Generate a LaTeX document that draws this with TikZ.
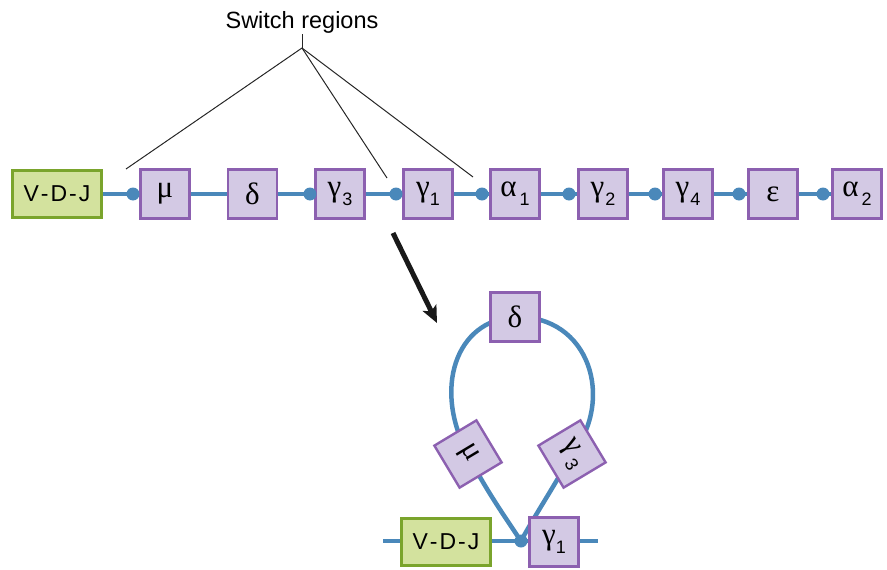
\documentclass[tikz,border=0pt]{standalone}
\usepackage{fontspec}
\setmainfont{Liberation Sans}
\newfontfamily\grk{Liberation Serif}
\usetikzlibrary{arrows.meta,backgrounds}
\definecolor{chain}{RGB}{74,136,186}
\definecolor{boxfill}{RGB}{211,201,228}
\definecolor{boxdraw}{RGB}{140,96,176}
\definecolor{vfill}{RGB}{211,226,158}
\definecolor{vdraw}{RGB}{122,164,44}
\newcommand\subdig[1]{\raisebox{-9pt}{\fontsize{18}{18}\selectfont #1}}
\newcommand\gl[1]{{\grk\fontsize{31}{31}\selectfont #1}}
\tikzset{
  gene/.style={draw=boxdraw,fill=boxfill,line width=2.4pt,minimum width=49pt,minimum height=49pt,inner sep=0pt,font=\fontsize{23}{23}\selectfont},
  vdj/.style={draw=vdraw,fill=vfill,line width=2.4pt,minimum width=89pt,minimum height=47pt,inner sep=0pt,font=\fontsize{23}{23}\selectfont},
  sw/.style={circle,fill=chain,inner sep=0pt,minimum size=13pt},
  chainline/.style={draw=chain,line width=4.5pt},
  pointer/.style={draw=black!85,line width=1pt}
}
\begin{document}
\begin{tikzpicture}[x=1pt,y=-1pt]
\useasboundingbox (0,0) rectangle (887,570);
% top row
\node[vdj] (vdj) at (57,194) {V\kern2pt-\kern2ptD\kern2pt-\kern2ptJ};
\node[gene] (mu) at (165,194) {\gl{μ}};
\node[gene] (de) at (252.5,194) {\gl{δ}};
\node[gene] (g3) at (340,194) {\gl{γ}\kern1pt\subdig{3}};
\node[gene] (g1) at (428,194) {\gl{γ}\kern0pt\subdig{1}};
\node[gene] (a1) at (515,194) {\gl{α}\kern3pt\subdig{1}};
\node[gene] (g2) at (603,194) {\gl{γ}\kern1pt\subdig{2}};
\node[gene] (g4) at (688,194) {\gl{γ}\kern1pt\subdig{4}};
\node[gene] (ep) at (773,194) {\gl{ε}};
\node[gene] (a2) at (857,194) {\gl{α}\kern3pt\subdig{2}};
\node[sw] (s1) at (133,194) {};
\node[sw] (s2) at (310,194) {};
\node[sw] (s3) at (396,194) {};
\node[sw] (s4) at (482,194) {};
\node[sw] (s5) at (569,194) {};
\node[sw] (s6) at (655,194) {};
\node[sw] (s7) at (739,194) {};
\node[sw] (s8) at (823,194) {};
\begin{scope}[on background layer]
\draw[chainline] (vdj.center) -- (a2.center);
\end{scope}
% switch regions label
\node[font=\fontsize{23.5}{24}\selectfont,anchor=base] (lab) at (302,28) {Switch regions};
\coordinate (apex) at (302,48);
\coordinate (t1) at (126,169);
\coordinate (t2) at (387,178);
\coordinate (t3) at (473,177);
\draw[pointer] (lab.south) ++(0,-2) -- (apex);
\draw[pointer] (apex) -- (t1);
\draw[pointer] (apex) -- (t2);
\draw[pointer] (apex) -- (t3);
% big arrow
\coordinate (ar1) at (393,233);
\coordinate (ar2) at (437,323);
\draw[line width=5pt,black!90,-{Stealth[length=17pt,width=15pt,inset=4pt]}] (ar1) -- (ar2);
% bottom loop
\coordinate (bl) at (383,541);
\coordinate (br) at (598,541);
\node[vdj] (vdjb) at (446,542) {V\kern2pt-\kern2ptD\kern2pt-\kern2ptJ};
\node[gene] (g1b) at (554,542) {\gl{γ}\kern0pt\subdig{1}};
\node[sw] (sb) at (521,541) {};
\node[gene] (deb) at (515,317) {\gl{δ}};
\node[gene,rotate=-59] (mub) at (468,454) {\gl{μ}};
\node[gene,rotate=-59] (g3b) at (572,454) {\gl{γ}\kern3.5pt\subdig{3}};
\begin{scope}[on background layer]
\draw[chainline] (bl) -- (br);
\draw[chainline] (sb.center) .. controls (500,510) and (480,480) .. (mub.center)
  .. controls (433,390) and (455,320) .. (deb.center)
  .. controls (590,315) and (615,400) .. (g3b.center)
  .. controls (555,485) and (535,515) .. (sb.center);
\end{scope}
\end{tikzpicture}
\end{document}
